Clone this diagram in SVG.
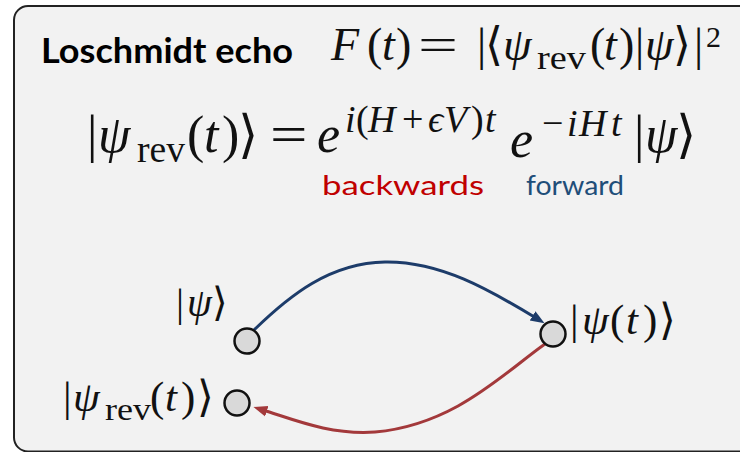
<svg xmlns="http://www.w3.org/2000/svg" width="740" height="452" viewBox="0 0 740 452">
<style>
.m{font-family:"Liberation Serif","DejaVu Serif",serif;fill:#111}
.i{font-style:italic}
.br{font-family:"DejaVu Sans ExtraLight","DejaVu Sans","Liberation Serif",serif}
.lbl{font-family:Lato,"Open Sans","Liberation Sans",sans-serif}
.node{fill:#d9d9d9;stroke:#111;stroke-width:2.5}
.edge{fill:none;stroke-width:3}
</style>
<defs>
<marker id="ab" markerUnits="userSpaceOnUse" markerWidth="16" markerHeight="14" refX="4" refY="7" orient="auto">
<path d="M0,1.5 L14,7 L0,12.5 Z" fill="#1d3c6a"/>
</marker>
<marker id="ar" markerUnits="userSpaceOnUse" markerWidth="16" markerHeight="14" refX="4" refY="7" orient="auto">
<path d="M0,1.5 L14,7 L0,12.5 Z" fill="#a3393b"/>
</marker>
</defs>
<rect x="0" y="0" width="740" height="452" fill="#ffffff"/>
<rect x="14" y="6" width="760" height="445.5" rx="14" fill="#f2f2f2" stroke="#222" stroke-width="2"/>

<g id="title">
<text x="41" y="63" font-family="Lato,'Open Sans','Liberation Sans',sans-serif" font-weight="bold" font-size="34" textLength="252" lengthAdjust="spacingAndGlyphs" fill="#000">Loschmidt echo</text>
</g>

<g id="formula-F" class="m" font-size="46">
<text y="60"><tspan x="331" class="i">F</tspan><tspan x="367">(</tspan><tspan x="382" class="i">t</tspan><tspan x="396">)</tspan></text>
<text x="418" y="60" textLength="40" lengthAdjust="spacingAndGlyphs">=</text>
<text y="60"><tspan x="477">|</tspan><tspan x="485" class="br">⟨</tspan><tspan x="503" class="i">ψ</tspan></text>
<text x="537" y="69" font-size="34" textLength="49" lengthAdjust="spacingAndGlyphs">rev</text>
<text y="60"><tspan x="590">(</tspan><tspan x="604" class="i">t</tspan><tspan x="619">)</tspan><tspan x="635">|</tspan><tspan x="645" class="i">ψ</tspan><tspan x="673" class="br">⟩</tspan><tspan x="694">|</tspan></text>
<text x="706" y="47" font-size="30">2</text>
</g>

<g id="formula-rev" class="m" font-size="52">
<text y="152"><tspan x="87">|</tspan><tspan x="98" class="i">ψ</tspan></text>
<text x="137" y="162" font-size="37" textLength="48" lengthAdjust="spacingAndGlyphs">rev</text>
<text y="152"><tspan x="187">(</tspan><tspan x="204" class="i">t</tspan><tspan x="222">)</tspan><tspan x="238" class="br">⟩</tspan></text>
<text x="270" y="152" textLength="37.5" lengthAdjust="spacingAndGlyphs">=</text>
<text x="317" y="152" class="i">e</text>
<text y="132" font-size="38"><tspan x="345" class="i">i</tspan><tspan x="356">(</tspan><tspan x="368" class="i">H</tspan><tspan x="402">+</tspan><tspan x="428" class="i">ϵ</tspan><tspan x="444" class="i">V</tspan><tspan x="471">)</tspan><tspan x="485" class="i">t</tspan></text>
<text x="510" y="157" class="i">e</text>
<text y="136" font-size="38"><tspan x="542">−</tspan><tspan x="567" class="i">i</tspan><tspan x="579" class="i">H</tspan><tspan x="611" class="i">t</tspan></text>
<text y="152"><tspan x="634">|</tspan><tspan x="645" class="i">ψ</tspan><tspan x="676" class="br">⟩</tspan></text>
</g>

<g id="annotations" class="lbl" font-size="26">
<text x="322" y="195" fill="#c00000" textLength="162" lengthAdjust="spacingAndGlyphs">backwards</text>
<text x="526" y="195" fill="#1f4e79" textLength="98" lengthAdjust="spacingAndGlyphs">forward</text>
</g>

<g id="connectors">
<path class="edge" stroke="#1d3c6a" d="M254 330 C290 295, 330 263, 385 262 C440 261, 490 290, 536 318" marker-end="url(#ab)"/>
<path class="edge" stroke="#a3393b" d="M545 344 C505 372, 455 425, 375 432 C330 435, 295 420, 263 410" marker-end="url(#ar)"/>
</g>

<g id="node-psi">
<circle class="node" cx="247" cy="341" r="12.5"/>
<text class="m" y="316" font-size="40"><tspan x="176">|</tspan><tspan x="187" class="i">ψ</tspan><tspan x="212" class="br">⟩</tspan></text>
</g>
<g id="node-psi-t">
<circle class="node" cx="553" cy="334" r="12.5"/>
<text class="m" y="334" font-size="43"><tspan x="570">|</tspan><tspan x="582" class="i">ψ</tspan><tspan x="610">(</tspan><tspan x="626" class="i">t</tspan><tspan x="643">)</tspan><tspan x="659" class="br">⟩</tspan></text>
</g>
<g id="node-psi-rev">
<circle class="node" cx="237" cy="403" r="12.5"/>
<text class="m" y="411" font-size="43"><tspan x="63">|</tspan><tspan x="73" class="i">ψ</tspan></text>
<text class="m" x="105" y="420" font-size="31" textLength="46" lengthAdjust="spacingAndGlyphs">rev</text>
<text class="m" y="411" font-size="43"><tspan x="150">(</tspan><tspan x="165" class="i">t</tspan><tspan x="181">)</tspan><tspan x="197" class="br">⟩</tspan></text>
</g>
</svg>
